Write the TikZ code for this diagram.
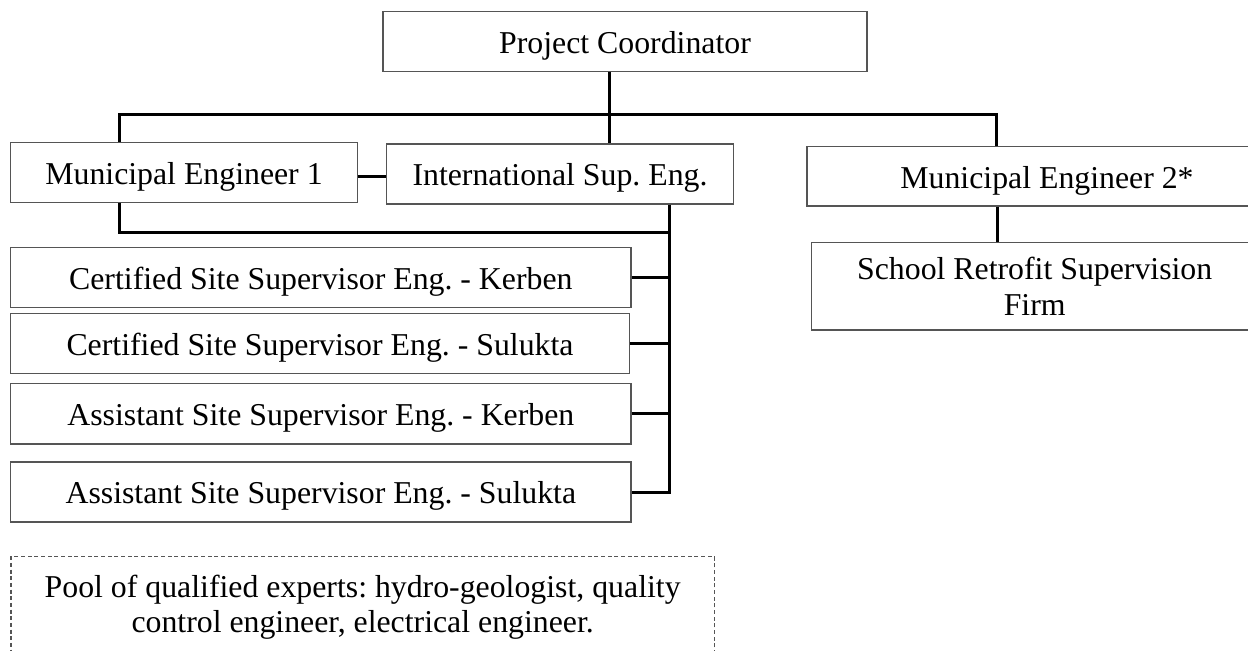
\documentclass[tikz,border=0pt]{standalone}
\usepackage{fontspec}
\setmainfont{Liberation Serif}
\newdimen\pxu \pxu=0.75pt
\definecolor{boxline}{RGB}{85,85,85}
\frenchspacing
\begin{document}
\begin{tikzpicture}[x=0.75pt,y=-0.75pt,
  box/.style={draw=boxline, line width=0.9pt, inner sep=0pt,
    font=\fontsize{23.85}{26.6}\selectfont\frenchspacing, text height=22.6pt, text depth=4.8pt},
  mbox/.style={draw=boxline, line width=0.9pt, inner sep=0pt, align=center,
    font=\fontsize{23.85}{26.6}\selectfont\frenchspacing},
  dbox/.style={mbox, dash pattern=on 3pt off 2pt},
  conn/.style={line width=2.25pt, draw=black}]
\useasboundingbox (0,0) rectangle (1248,650);
\fill[white] (0,0) rectangle (1248,650);
\clip (0,0) rectangle (1248,650);

\node[box, minimum width=484\pxu, minimum height=60\pxu] (pc) at (625,41.7) {Project Coordinator};
\node[box, minimum width=346.6\pxu, minimum height=60\pxu] (me1) at (184,172.3) {Municipal Engineer 1};
\node[box, minimum width=346.6\pxu, minimum height=60\pxu] (ise) at (560,174) {International Sup. Eng.};
\node[box, minimum width=480\pxu, minimum height=59.3\pxu] (me2) at (1047,176.3) {Municipal Engineer 2*};
\node[mbox, minimum width=446\pxu, minimum height=87.7\pxu] (srf) at (1034.7,286.2) {School Retrofit Supervision\\Firm};
\node[box, minimum width=620.3\pxu, minimum height=60.2\pxu] (c1) at (320.85,277.4) {Certified Site Supervisor Eng. - Kerben};
\node[box, minimum width=618.6\pxu, minimum height=60.2\pxu] (c2) at (320,343.4) {Certified Site Supervisor Eng. - Sulukta};
\node[box, minimum width=620.3\pxu, minimum height=60.7\pxu] (a1) at (320.85,413.7) {Assistant Site Supervisor Eng. - Kerben};
\node[box, minimum width=620.3\pxu, minimum height=60\pxu] (a2) at (320.85,492) {Assistant Site Supervisor Eng. - Sulukta};
\node[dbox, minimum width=703.3\pxu, minimum height=100.6\pxu] (pool) at (362.65,607) {Pool of qualified experts: hydro-geologist, quality\\control engineer, electrical engineer.};

\coordinate (pcj) at (609,71.7);
\coordinate (busL) at (119,114.3);
\coordinate (busR) at (996,114.3);
\coordinate (lk) at (372,176);
\coordinate (lowL) at (119,232);
\coordinate (vb) at (669,232);
\coordinate (srfx) at (997.7,0);

\draw[conn] (pcj) -- (pcj |- ise.north);
\draw[conn] (busL |- me1.north) -- (busL) -- (busR) -- (busR |- me2.north);
\draw[conn] (me1.east |- lk) -- (ise.west |- lk);
\draw[conn] (lowL |- me1.south) -- (lowL) -- (vb);
\draw[conn] (vb |- ise.south) -- (vb |- a2.east) -- (a2.east);
\draw[conn] (c1.east) -- (c1.east -| vb);
\draw[conn] (c2.east) -- (c2.east -| vb);
\draw[conn] (a1.east) -- (a1.east -| vb);
\draw[conn] (me2.south -| srfx) -- (srf.north -| srfx);
\end{tikzpicture}
\end{document}
